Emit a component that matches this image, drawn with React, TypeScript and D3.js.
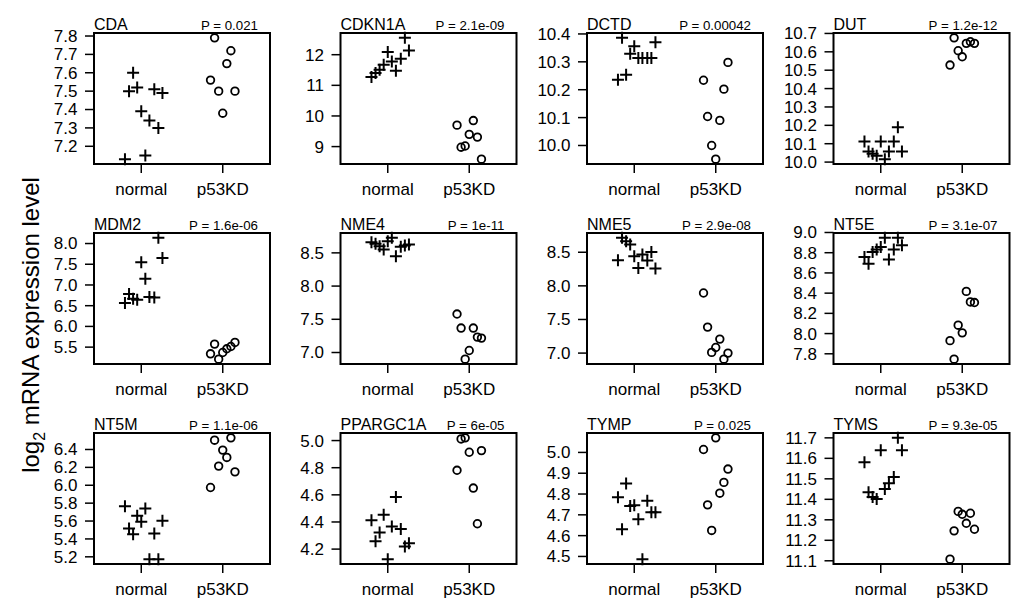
import React from "react";
import * as d3 from "d3";

const groups = ["normal", "p53KD"];
const normalJitter = [-0.2, -0.15, -0.1, -0.05, 0.0, 0.05, 0.1, 0.16, 0.21, 0.26];
const kdJitter = [-0.15, -0.1, -0.05, 0.0, 0.05, 0.1, 0.15];

const genes = ["CDA", "CDKN1A", "DCTD", "DUT", "MDM2", "NME4", "NME5", "NT5E", "NT5M", "PPARGC1A", "TYMP", "TYMS"];
const pLabels = ["P = 0.021", "P = 2.1e-09", "P = 0.00042", "P = 1.2e-12", "P = 1.6e-06", "P = 1e-11", "P = 2.9e-08", "P = 3.1e-07", "P = 1.1e-06", "P = 6e-05", "P = 0.025", "P = 9.3e-05"];

const cdaNormal = [7.13, 7.5, 7.6, 7.52, 7.39, 7.15, 7.34, 7.51, 7.3, 7.49];
const cdaKD = [7.56, 7.79, 7.5, 7.38, 7.65, 7.72, 7.5];
const cdkn1aNormal = [11.27, 11.4, 11.51, 11.67, 12.09, 11.78, 11.48, 11.87, 12.55, 12.14];
const cdkn1aKD = [9.7, 8.98, 9.02, 9.4, 9.85, 9.31, 8.59];
const dctdNormal = [10.236, 10.386, 10.254, 10.329, 10.356, 10.314, 10.314, 10.314, 10.314, 10.37];
const dctdKD = [10.234, 10.104, 10.0, 9.951, 10.09, 10.202, 10.298];
const dutNormal = [10.112, 10.058, 10.045, 10.034, 10.112, 10.016, 10.058, 10.112, 10.19, 10.058];
const dutKD = [10.528, 10.676, 10.606, 10.573, 10.646, 10.655, 10.646];
const mdm2Normal = [6.565, 6.782, 6.669, 6.645, 7.548, 7.153, 6.71, 6.7, 8.137, 7.653];
const mdm2KD = [5.339, 5.573, 5.21, 5.371, 5.46, 5.516, 5.613];
const nme4Normal = [8.661, 8.636, 8.6, 8.55, 8.676, 8.726, 8.45, 8.591, 8.611, 8.626];
const nme4KD = [7.579, 7.368, 6.9, 7.03, 7.368, 7.232, 7.217];
const nme5Normal = [8.381, 8.714, 8.664, 8.614, 8.44, 8.267, 8.465, 8.376, 8.505, 8.257];
const nme5KD = [7.894, 7.387, 7.01, 7.084, 7.208, 6.91, 7.0];
const nt5eNormal = [8.757, 8.69, 8.807, 8.833, 8.857, 8.947, 8.733, 8.833, 8.947, 8.873];
const nt5eKD = [7.93, 7.747, 8.083, 8.007, 8.417, 8.313, 8.307];
const nt5mNormal = [5.766, 5.517, 5.453, 5.658, 5.591, 5.74, 5.174, 5.461, 5.174, 5.602];
const nt5mKD = [5.975, 6.504, 6.214, 6.393, 6.311, 6.53, 6.15];
const ppargc1aNormal = [4.412, 4.257, 4.323, 4.454, 4.126, 4.367, 4.584, 4.348, 4.22, 4.244];
const ppargc1aKD = [4.781, 5.012, 5.02, 4.914, 4.65, 4.387, 4.926];
const tympNormal = [4.784, 4.631, 4.851, 4.743, 4.746, 4.679, 4.487, 4.768, 4.712, 4.712];
const tympKD = [5.014, 4.748, 4.625, 5.07, 4.804, 4.856, 4.92];
const tymsNormal = [11.581, 11.434, 11.411, 11.401, 11.64, 11.45, 11.479, 11.509, 11.7, 11.64];
const tymsKD = [11.108, 11.246, 11.341, 11.327, 11.283, 11.332, 11.254];

const normalValues = [cdaNormal, cdkn1aNormal, dctdNormal, dutNormal, mdm2Normal, nme4Normal, nme5Normal, nt5eNormal, nt5mNormal, ppargc1aNormal, tympNormal, tymsNormal];
const kdValues = [cdaKD, cdkn1aKD, dctdKD, dutKD, mdm2KD, nme4KD, nme5KD, nt5eKD, nt5mKD, ppargc1aKD, tympKD, tymsKD];

const yTicks = [
  [7.2, 7.3, 7.4, 7.5, 7.6, 7.7, 7.8],
  [9, 10, 11, 12],
  [10.0, 10.1, 10.2, 10.3, 10.4],
  [10.0, 10.1, 10.2, 10.3, 10.4, 10.5, 10.6, 10.7],
  [5.5, 6.0, 6.5, 7.0, 7.5, 8.0],
  [7.0, 7.5, 8.0, 8.5],
  [7.0, 7.5, 8.0, 8.5],
  [7.8, 8.0, 8.2, 8.4, 8.6, 8.8, 9.0],
  [5.2, 5.4, 5.6, 5.8, 6.0, 6.2, 6.4],
  [4.2, 4.4, 4.6, 4.8, 5.0],
  [4.5, 4.6, 4.7, 4.8, 4.9, 5.0],
  [11.1, 11.2, 11.3, 11.4, 11.5, 11.6, 11.7],
];
const tickDecimals = [1, 0, 1, 1, 1, 1, 1, 1, 1, 1, 1, 1];

const FONT = "'Liberation Sans', Arial, Helvetica, sans-serif";
const W = 1024;
const H = 610;
const BOX_W = 176;
const BOX_H = 131;
const LEFT0 = 94;
const COL_STEP = 246.5;
const TOP0 = 33;
const ROW_STEP = 200;
const TICK = 9;

function Panel({ i }: { i: number }) {
  const col = i % 4;
  const row = Math.floor(i / 4);
  const left = LEFT0 + col * COL_STEP;
  const top = TOP0 + row * ROW_STEP;
  const all = [...normalValues[i], ...kdValues[i]];
  const [mn, mx] = d3.extent(all) as [number, number];
  const pad = (mx - mn) * 0.04;
  const x = d3.scaleLinear().domain([0.42, 2.58]).range([left, left + BOX_W]);
  const y = d3.scaleLinear().domain([mn - pad, mx + pad]).range([top + BOX_H, top]);
  const fmt = d3.format(`.${tickDecimals[i]}f`);
  const arm = 6;
  return (
    <g>
      <text x={left} y={top - 3} fontSize={16} fontFamily={FONT}>{genes[i]}</text>
      <text x={left + BOX_W - 12} y={top - 3.5} fontSize={13.3} fontFamily={FONT} textAnchor="end">{pLabels[i]}</text>
      {yTicks[i].map((t) => (
        <g key={t}>
          <line x1={left - TICK} x2={left} y1={y(t)} y2={y(t)} stroke="#000" strokeWidth={1.5} />
          <text x={left - 16.5} y={y(t)} dy="0.35em" fontSize={17} fontFamily={FONT} textAnchor="end">{fmt(t)}</text>
        </g>
      ))}
      {groups.map((g, k) => (
        <g key={g}>
          <line x1={x(k + 1)} x2={x(k + 1)} y1={top + BOX_H} y2={top + BOX_H + TICK} stroke="#000" strokeWidth={1.5} />
          <text x={x(k + 1)} y={top + BOX_H + 31} fontSize={17} fontFamily={FONT} textAnchor="middle">{g}</text>
        </g>
      ))}
      {normalValues[i].map((v, j) => {
        const cx = x(1 + normalJitter[j]);
        const cy = y(v);
        return (
          <path key={"n" + j} d={`M${cx - arm},${cy}H${cx + arm}M${cx},${cy - arm}V${cy + arm}`} stroke="#000" strokeWidth={2} fill="none" />
        );
      })}
      {kdValues[i].map((v, j) => (
        <circle key={"k" + j} cx={x(2 + kdJitter[j])} cy={y(v)} r={3.8} stroke="#000" strokeWidth={1.8} fill="none" />
      ))}
      <rect x={left} y={top} width={BOX_W} height={BOX_H} fill="none" stroke="#000" strokeWidth={2} />
    </g>
  );
}

export default function App() {
  return (
    <div style={{ position: "absolute", left: 0, top: 0 }}>
      <svg width={W} height={H} viewBox={`0 0 ${W} ${H}`} style={{ display: "block", background: "#fff" }}>
        <rect width={W} height={H} fill="#fff" />
        {genes.map((_, i) => (
          <Panel key={i} i={i} />
        ))}
        <text transform="translate(39,325) rotate(-90)" fontSize={24} fontFamily={FONT} textAnchor="middle">
          log<tspan fontSize={16} dy={6}>2</tspan>
          <tspan dy={-6}> mRNA expression level</tspan>
        </text>
      </svg>
    </div>
  );
}
